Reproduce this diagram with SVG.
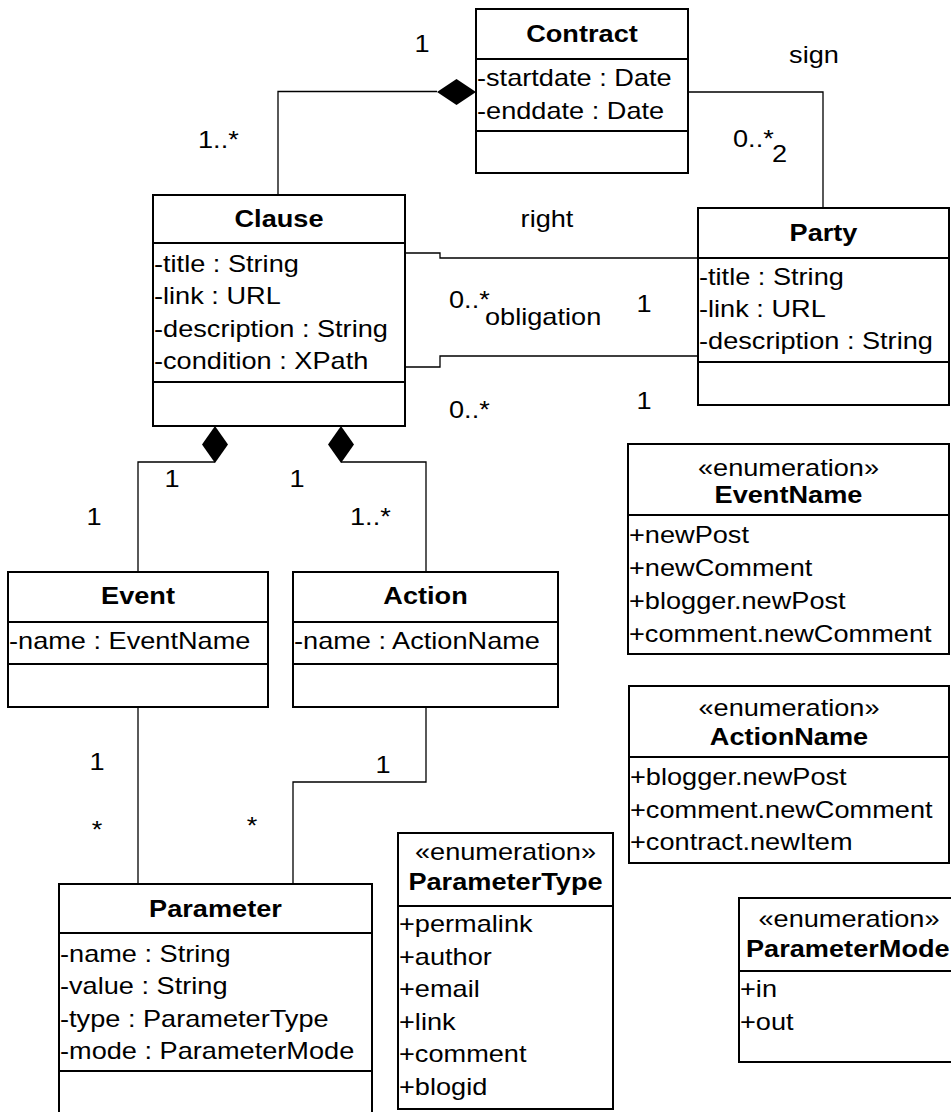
<svg xmlns="http://www.w3.org/2000/svg" width="951" height="1112" viewBox="0 0 951 1112">
<style>
  text { font-family: "Liberation Sans", Arial, sans-serif; font-size: 23px; fill: #000; }
  .t { font-weight: bold; text-anchor: middle; }
  .c { text-anchor: middle; }
  .box { fill: #fff; stroke: #000; stroke-width: 2; }
  .div { stroke: #000; stroke-width: 2; }
  .con { fill: none; stroke: #000; stroke-width: 1.3; }
  .dia { fill: #000; stroke: none; }
</style>
<rect x="0" y="0" width="951" height="1112" fill="#fff"/>

<g id="connectors">
  <polyline class="con" points="278,195 278,91.5 437,91.5"/>
  <polygon class="dia" points="437,92 456.5,79 476,92 456.5,105"/>
  <polyline class="con" points="688,92 823,92 823,208"/>
  <polyline class="con" points="405,253 440,253 440,258 698,258"/>
  <polyline class="con" points="405,367 440,367 440,356 698,356"/>
  <polygon class="dia" points="215,426 228,444.5 215,463 202,444.5"/>
  <polyline class="con" points="215,462 138,462 138,572"/>
  <polygon class="dia" points="341,426 354,444.5 341,463 328,444.5"/>
  <polyline class="con" points="341,462 426,462 426,572"/>
  <polyline class="con" points="138,707 138,884"/>
  <polyline class="con" points="426,707 426,782 293,782 293,884"/>

  <text class="c" transform="translate(422,52) scale(1.181,1)">1</text>
  <text transform="translate(198,148) scale(1.181,1)">1..*</text>
  <text class="c" transform="translate(814,63) scale(1.181,1)">sign</text>
  <text transform="translate(733,147) scale(1.181,1)">0..*</text>
  <text transform="translate(772,162) scale(1.181,1)">2</text>
  <text class="c" transform="translate(547,227) scale(1.181,1)">right</text>
  <text transform="translate(449,308) scale(1.181,1)">0..*</text>
  <text transform="translate(485,325) scale(1.181,1)">obligation</text>
  <text class="c" transform="translate(644,312) scale(1.181,1)">1</text>
  <text transform="translate(449,418) scale(1.181,1)">0..*</text>
  <text class="c" transform="translate(644,409) scale(1.181,1)">1</text>
  <text class="c" transform="translate(172,487) scale(1.181,1)">1</text>
  <text class="c" transform="translate(94,525) scale(1.181,1)">1</text>
  <text class="c" transform="translate(297,487) scale(1.181,1)">1</text>
  <text transform="translate(350,525) scale(1.181,1)">1..*</text>
  <text class="c" transform="translate(97,770) scale(1.181,1)">1</text>
  <text class="c" transform="translate(97,838) scale(1.181,1)">*</text>
  <text class="c" transform="translate(383,773) scale(1.181,1)">1</text>
  <text class="c" transform="translate(252,834) scale(1.181,1)">*</text>
</g>

<g id="contract">
  <rect class="box" x="476" y="9" width="212" height="164"/>
  <line class="div" x1="476" y1="59" x2="688" y2="59"/>
  <line class="div" x1="476" y1="131" x2="688" y2="131"/>
  <text class="t" transform="translate(582,42) scale(1.181,1)">Contract</text>
  <g transform="translate(477,0) scale(1.181,1)">
    <text y="86">-startdate : Date</text>
    <text y="119">-enddate : Date</text>
  </g>
</g>

<g id="clause">
  <rect class="box" x="153" y="195" width="252" height="231"/>
  <line class="div" x1="153" y1="243" x2="405" y2="243"/>
  <line class="div" x1="153" y1="382" x2="405" y2="382"/>
  <text class="t" transform="translate(279,227) scale(1.181,1)">Clause</text>
  <g transform="translate(154,0) scale(1.181,1)">
    <text y="272">-title : String</text>
    <text y="304">-link : URL</text>
    <text y="337">-description : String</text>
    <text y="369">-condition : XPath</text>
  </g>
</g>

<g id="party">
  <rect class="box" x="698" y="208" width="251" height="197"/>
  <line class="div" x1="698" y1="258" x2="949" y2="258"/>
  <line class="div" x1="698" y1="362" x2="949" y2="362"/>
  <text class="t" transform="translate(823.5,241) scale(1.181,1)">Party</text>
  <g transform="translate(699,0) scale(1.181,1)">
    <text y="285">-title : String</text>
    <text y="317">-link : URL</text>
    <text y="349">-description : String</text>
  </g>
</g>

<g id="event">
  <rect class="box" x="8" y="572" width="260" height="135"/>
  <line class="div" x1="8" y1="622" x2="268" y2="622"/>
  <line class="div" x1="8" y1="664" x2="268" y2="664"/>
  <text class="t" transform="translate(138,604) scale(1.181,1)">Event</text>
  <text transform="translate(9,649) scale(1.181,1)">-name : EventName</text>
</g>

<g id="action">
  <rect class="box" x="293" y="572" width="265" height="135"/>
  <line class="div" x1="293" y1="622" x2="558" y2="622"/>
  <line class="div" x1="293" y1="664" x2="558" y2="664"/>
  <text class="t" transform="translate(425.5,604) scale(1.181,1)">Action</text>
  <text transform="translate(294,649) scale(1.181,1)">-name : ActionName</text>
</g>

<g id="parameter">
  <rect class="box" x="59" y="884" width="313" height="240"/>
  <line class="div" x1="59" y1="933" x2="372" y2="933"/>
  <line class="div" x1="59" y1="1071" x2="372" y2="1071"/>
  <text class="t" transform="translate(215.5,917) scale(1.181,1)">Parameter</text>
  <g transform="translate(60,0) scale(1.181,1)">
    <text y="962">-name : String</text>
    <text y="994">-value : String</text>
    <text y="1027">-type : ParameterType</text>
    <text y="1059">-mode : ParameterMode</text>
  </g>
</g>

<g id="parametertype">
  <rect class="box" x="398" y="833" width="215" height="276"/>
  <line class="div" x1="398" y1="906" x2="613" y2="906"/>
  <text class="c" transform="translate(505.5,860) scale(1.181,1)">«enumeration»</text>
  <text class="t" transform="translate(505.5,890) scale(1.181,1)">ParameterType</text>
  <g transform="translate(399,0) scale(1.181,1)">
    <text y="932">+permalink</text>
    <text y="965">+author</text>
    <text y="997">+email</text>
    <text y="1030">+link</text>
    <text y="1062">+comment</text>
    <text y="1095">+blogid</text>
  </g>
</g>

<g id="eventname">
  <rect class="box" x="628" y="444" width="321" height="210"/>
  <line class="div" x1="628" y1="515" x2="949" y2="515"/>
  <text class="c" transform="translate(788.5,476) scale(1.181,1)">«enumeration»</text>
  <text class="t" transform="translate(788.5,503) scale(1.181,1)">EventName</text>
  <g transform="translate(629,0) scale(1.181,1)">
    <text y="543">+newPost</text>
    <text y="576">+newComment</text>
    <text y="609">+blogger.newPost</text>
    <text y="642">+comment.newComment</text>
  </g>
</g>

<g id="actionname">
  <rect class="box" x="629" y="686" width="320" height="177"/>
  <line class="div" x1="629" y1="757" x2="949" y2="757"/>
  <text class="c" transform="translate(789,716) scale(1.181,1)">«enumeration»</text>
  <text class="t" transform="translate(789,745) scale(1.181,1)">ActionName</text>
  <g transform="translate(630,0) scale(1.181,1)">
    <text y="785">+blogger.newPost</text>
    <text y="818">+comment.newComment</text>
    <text y="850">+contract.newItem</text>
  </g>
</g>

<g id="parametermode">
  <rect class="box" x="739" y="898" width="225" height="164"/>
  <line class="div" x1="739" y1="971" x2="964" y2="971"/>
  <text class="c" transform="translate(849,927) scale(1.181,1)">«enumeration»</text>
  <text style="font-weight:bold" transform="translate(746,957) scale(1.181,1)">ParameterMode</text>
  <g transform="translate(740,0) scale(1.181,1)">
    <text y="997">+in</text>
    <text y="1030">+out</text>
  </g>
</g>
</svg>
